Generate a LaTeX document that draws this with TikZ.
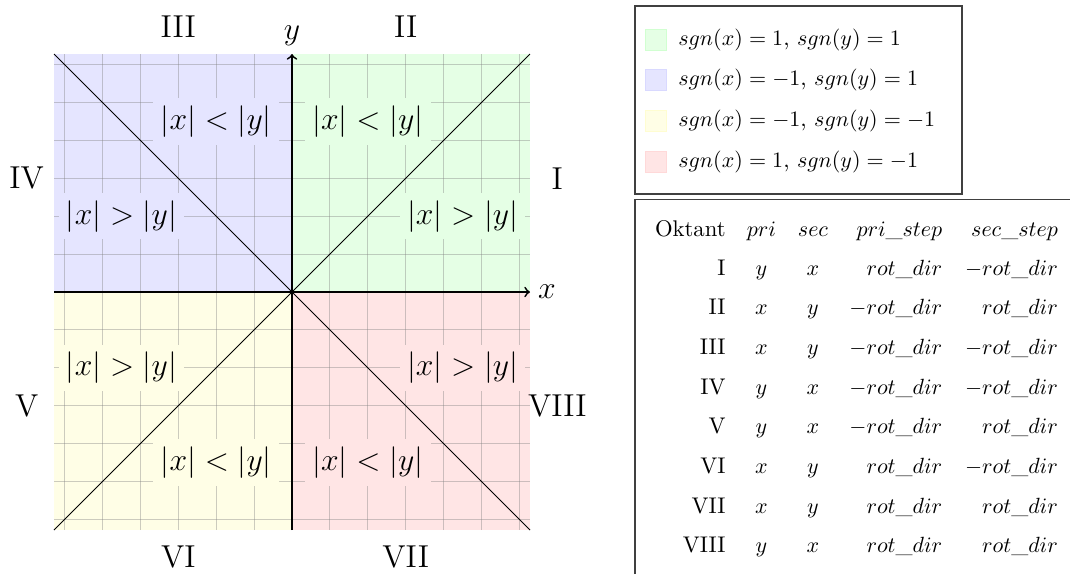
\documentclass[tikz,border=0pt]{standalone}
\newcommand{\rdir}{rot\_dir}
\newcommand{\tabfont}{\fontsize{10.3}{12.4}\selectfont}
\begin{document}
\begin{tikzpicture}[x=0.4545pt,y=-0.4545pt,
  gridline/.style={draw=gray, line width=0.45pt, opacity=0.4},
  axisline/.style={thick, ->},
  diag/.style={line width=0.4pt},
  region/.style={font=\Large},
  cmp/.style={font=\Large},
  axlab/.style={font=\Large},
  legsq/.style={minimum size=9.5pt, inner sep=0pt},
  legtxt/.style={anchor=west, inner sep=0pt, font=\tabfont},
  cell/.style={inner sep=0pt, font=\tabfont},
  tabframe/.style={draw=black!75, line width=0.55pt}]
\useasboundingbox (0,0) rectangle (1070,574);
% quadrant fills
\fill[green!10]  (292,54) rectangle (530,292);
\fill[blue!10]   (54,54) rectangle (292,292);
\fill[yellow!10] (54,292) rectangle (292,530);
\fill[red!10]    (292,292) rectangle (530,530);
% grid
\foreach \k in {-6,...,6}{
  \draw[gridline] ({292+\k*37.9},54) -- ({292+\k*37.9},530);
  \draw[gridline] (54,{292+\k*37.9}) -- (530,{292+\k*37.9});
}
% comparison labels
\node[cmp, fill=blue!10]   (ul1) at (216.2,121.4) {$|x| < |y|$};
\node[cmp, fill=blue!10]   (ul2) at (121.4,216.2) {$|x| > |y|$};
\node[cmp, fill=green!10]  (ur1) at (367.8,121.4) {$|x| < |y|$};
\node[cmp, fill=green!10]  (ur2) at (462.6,216.2) {$|x| > |y|$};
\node[cmp, fill=yellow!10] (ll2) at (121.4,367.8) {$|x| > |y|$};
\node[cmp, fill=yellow!10] (ll1) at (216.2,462.6) {$|x| < |y|$};
\node[cmp, fill=red!10]    (lr1) at (367.8,462.6) {$|x| < |y|$};
\node[cmp, fill=red!10]    (lr2) at (462.6,367.8) {$|x| > |y|$};
% diagonals
\coordinate (cUL) at (54,54);
\coordinate (cUR) at (530,54);
\coordinate (cLL) at (54,530);
\coordinate (cLR) at (530,530);
\draw[diag] (cUL) -- (cLR);
\draw[diag] (cLL) -- (cUR);
% axes
\coordinate (xa) at (54,292);
\coordinate (xb) at (530,292);
\coordinate (ya) at (292,530);
\coordinate (yb) at (292,54);
\draw[axisline] (xa) -- (xb) node[right, axlab] (xlab) {$x$};
\draw[axisline] (ya) -- (yb) node[above, axlab] (ylab) {$y$};
% octant numerals
\node[region] (oI)    at (557.3,178.3) {I};
\node[region] (oII)   at (405.7,26.7)  {II};
\node[region] (oIII)  at (178.3,26.7)  {III};
\node[region] (oIV)   at (26.7,178.3)  {IV};
\node[region] (oV)    at (26.7,405.7)  {V};
\node[region] (oVI)   at (178.3,557.3) {VI};
\node[region] (oVII)  at (405.7,557.3) {VII};
\node[region] (oVIII) at (557.3,405.7) {VIII};
% legend
\draw[tabframe] (635,6) rectangle (962,194);
\node[legsq, fill=green!10,  draw=green!18]  (sq1) at (656,39.5)  {};
\node[legsq, fill=blue!10,   draw=blue!15]   (sq2) at (656,80.3)  {};
\node[legsq, fill=yellow!10, draw=yellow!18] (sq3) at (656,121.1) {};
\node[legsq, fill=red!10,    draw=red!15]    (sq4) at (656,161.9) {};
\node[legtxt] (lt1) at (678,39.5)  {$sgn(x) = 1$, $sgn(y) = 1$};
\node[legtxt] (lt2) at (678,80.3)  {$sgn(x) = -1$, $sgn(y) = 1$};
\node[legtxt] (lt3) at (678,121.1) {$sgn(x) = -1$, $sgn(y) = -1$};
\node[legtxt] (lt4) at (678,161.9) {$sgn(x) = 1$, $sgn(y) = -1$};
% table frame
\coordinate (tf1) at (635,574);
\coordinate (tf2) at (635,199.3);
\coordinate (tf3) at (1070,199.3);
\draw[tabframe] (tf1) -- (tf2) -- (tf3);
% table header
\node[cell, anchor=base east] (t-0-1) at (726,236)    {Oktant};
\node[cell, anchor=base]      (t-0-2) at (761.5,236)  {$pri$};
\node[cell, anchor=base]      (t-0-3) at (813,236)    {$sec$};
\node[cell, anchor=base east] (t-0-4) at (942.7,236)  {$pri\_step$};
\node[cell, anchor=base east] (t-0-5) at (1058.3,236) {$sec\_step$};
% table rows
\foreach \k/\a/\b/\c/\d/\e in {
  1/I/y/x/{\rdir}/{-\rdir},
  2/II/x/y/{-\rdir}/{\rdir},
  3/III/x/y/{-\rdir}/{-\rdir},
  4/IV/y/x/{-\rdir}/{-\rdir},
  5/V/y/x/{-\rdir}/{\rdir},
  6/VI/x/y/{\rdir}/{-\rdir},
  7/VII/x/y/{\rdir}/{\rdir},
  8/VIII/y/x/{\rdir}/{\rdir}}{
  \pgfmathsetmacro{\yy}{275+39.67*(\k-1)}
  \node[cell, anchor=base east] (t-\k-1) at (726,\yy)    {\a};
  \node[cell, anchor=base]      (t-\k-2) at (761.5,\yy)  {$\b$};
  \node[cell, anchor=base]      (t-\k-3) at (813,\yy)    {$\c$};
  \node[cell, anchor=base east] (t-\k-4) at (942.7,\yy)  {$\d$};
  \node[cell, anchor=base east] (t-\k-5) at (1058.3,\yy) {$\e$};
}
\end{tikzpicture}
\end{document}
